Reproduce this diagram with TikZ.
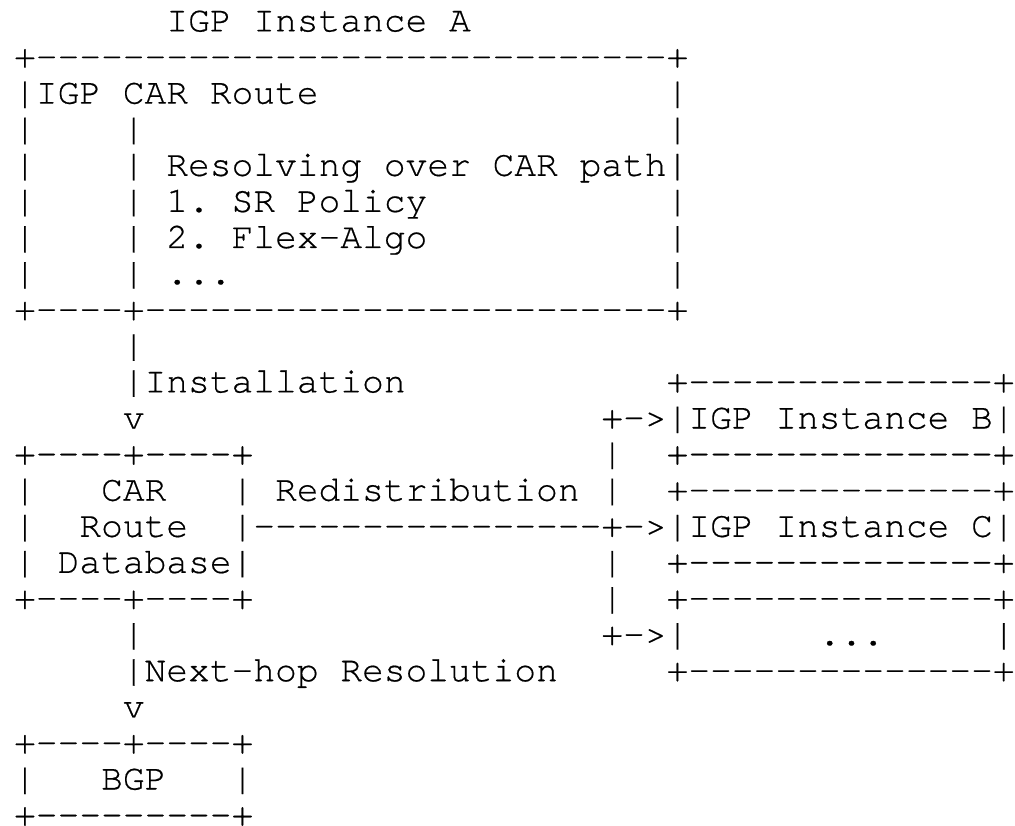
\documentclass[tikz,border=0pt]{standalone}
\usepackage{fontspec}
\setmonofont{TeX Gyre Cursor}[Ligatures=TeXOff, FakeBold=0.5]
\begin{document}
\begin{tikzpicture}[
  txt/.style={anchor=base west, inner sep=0pt, outer sep=0pt, text=black,
    font=\fontsize{36.25pt}{36.25pt}\selectfont\ttfamily\frenchspacing}
]
\newcommand\asc[4]{\node[txt] (#1) at ({14.1pt+#2*21.75pt},{-31.4pt-#3*36.1pt}) {#4};}
\fill[white] (0pt,0pt) rectangle (1015pt,-826pt);
\useasboundingbox (0pt,0pt) rectangle (1015pt,-826pt);
% IGP instance A box
\asc{titleA}{7}{0}{IGP Instance A}
\asc{aTop}{0}{1}{+-----------------------------+}
\asc{aL2}{0}{2}{|IGP CAR Route}
\asc{aR2}{30}{2}{|}
\asc{aL3}{0}{3}{|}
\asc{aM3}{5}{3}{|}
\asc{aR3}{30}{3}{|}
\asc{aL4}{0}{4}{|}
\asc{aM4}{5}{4}{| Resolving over CAR path|}
\asc{aL5}{0}{5}{|}
\asc{aM5}{5}{5}{| 1. SR Policy}
\asc{aR5}{30}{5}{|}
\asc{aL6}{0}{6}{|}
\asc{aM6}{5}{6}{| 2. Flex-Algo}
\asc{aR6}{30}{6}{|}
\asc{aL7}{0}{7}{|}
\asc{aM7}{5}{7}{| ...}
\asc{aR7}{30}{7}{|}
\asc{aBot}{0}{8}{+----+------------------------+}
% installation
\asc{inst9}{5}{9}{|}
\asc{inst10}{5}{10}{|Installation}
\asc{instV}{5}{11}{v}
% IGP instance B
\asc{bTop}{30}{10}{+--------------+}
\asc{bMid}{27}{11}{+->|IGP Instance B|}
\asc{bBot}{30}{12}{+--------------+}
% CAR route database
\asc{carTop}{0}{12}{+----+----+}
\asc{carL13}{0}{13}{|}
\asc{carT1}{4}{13}{CAR}
\asc{redis}{10}{13}{| Redistribution |}
\asc{carL14}{0}{14}{|}
\asc{carT2}{3}{14}{Route}
\asc{redisLine}{10}{14}{|----------------+->|IGP Instance C|}
\asc{car15}{0}{15}{| Database|}
\asc{carBot}{0}{16}{+----+----+}
% bus
\asc{bus12}{27}{12}{|}
\asc{bus15}{27}{15}{|}
\asc{bus16}{27}{16}{|}
% IGP instance C
\asc{cTop}{30}{13}{+--------------+}
\asc{cBot}{30}{15}{+--------------+}
% more instances
\asc{dTop}{30}{16}{+--------------+}
\asc{dArr}{27}{17}{+->|}
\asc{dDots}{37}{17}{...}
\asc{dR}{45}{17}{|}
\asc{dBot}{30}{18}{+--------------+}
% next-hop resolution
\asc{nh17}{5}{17}{|}
\asc{nh18}{5}{18}{|Next-hop Resolution}
\asc{nhV}{5}{19}{v}
% BGP
\asc{bgpTop}{0}{20}{+----+----+}
\asc{bgpL}{0}{21}{|}
\asc{bgpT}{4}{21}{BGP}
\asc{bgpR}{10}{21}{|}
\asc{bgpBot}{0}{22}{+---------+}
\end{tikzpicture}
\end{document}
